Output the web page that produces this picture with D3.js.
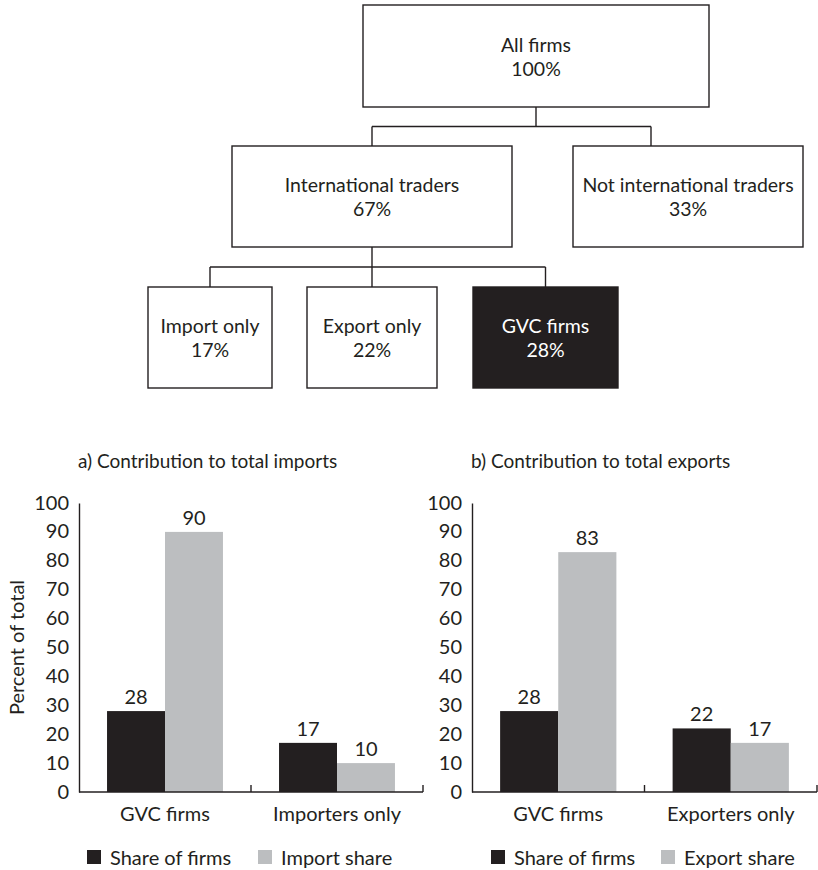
<!DOCTYPE html>
<html>
<head>
<meta charset="utf-8">
<script src="https://cdn.jsdelivr.net/npm/d3@7"></script>
<style>
  html, body { margin: 0; padding: 0; background: #fff; }
  svg { display: block; }
  text { font-family: Lato, "Noto Sans", sans-serif; fill: #231f20; }
</style>
</head>
<body>
<svg id="chart" width="818" height="870"></svg>
<script>
// ---- Firm classification tree ----
const treeIds     = ["all", "intl", "nonintl", "imp", "exp", "gvc"];
const treeParents = ["",    "all",  "all",     "intl", "intl", "intl"];
const treeLabels  = ["All firms", "International traders", "Not international traders",
                     "Import only", "Export only", "GVC firms"];
const treeShares  = [100, 67, 33, 17, 22, 28];

// ---- Panel a: contribution to total imports ----
const importCategories = ["GVC firms", "Importers only"];
const importFirmShare  = [28, 17];
const importValueShare = [90, 10];

// ---- Panel b: contribution to total exports ----
const exportCategories = ["GVC firms", "Exporters only"];
const exportFirmShare  = [28, 22];
const exportValueShare = [83, 17];

const yTicks = [0, 10, 20, 30, 40, 50, 60, 70, 80, 90, 100];

const INK = "#231f20";
const GREY = "#bcbec0";
const FS = 20;

const svg = d3.select("#chart");

// ---------------- Tree diagram ----------------
// box geometry per node (layout only)
const boxLayout = {
  all:     { x0: 363, x1: 709, y0: 5,   y1: 107 },
  intl:    { x0: 232, x1: 512, y0: 146, y1: 247 },
  nonintl: { x0: 573, x1: 803, y0: 146, y1: 247, drop: 651 },
  imp:     { x0: 148, x1: 272, y0: 287, y1: 388 },
  exp:     { x0: 307, x1: 437, y0: 287, y1: 388 },
  gvc:     { x0: 473, x1: 618, y0: 287, y1: 388 }
};

const root = d3.stratify()
  .id((d, i) => treeIds[i])
  .parentId((d, i) => treeParents[i] || null)(treeIds.map((id, i) => ({ i })));

root.each(n => {
  const b = boxLayout[n.id];
  n.box = b;
  n.cx = (b.x0 + b.x1) / 2;
  n.dropX = b.drop !== undefined ? b.drop : n.cx;
  n.label = treeLabels[n.data.i];
  n.share = treeShares[n.data.i];
  n.dark = n.id === "gvc";
});

const treeG = svg.append("g");

// elbow connectors: parent bottom -> bus line -> child top
root.descendants().filter(n => n.children).forEach(p => {
  const busY = (p.box.y1 + p.children[0].box.y0) / 2;
  const xs = p.children.map(c => c.dropX).concat([p.cx]);
  const lines = [
    [[p.cx, p.box.y1], [p.cx, busY]],
    [[d3.min(xs), busY], [d3.max(xs), busY]]
  ];
  p.children.forEach(c => lines.push([[c.dropX, busY], [c.dropX, c.box.y0]]));
  treeG.selectAll(null).data(lines).join("path")
    .attr("d", d3.line())
    .attr("fill", "none")
    .attr("stroke", INK)
    .attr("stroke-width", 1.4);
});

const nodes = treeG.selectAll("g.node").data(root.descendants()).join("g").attr("class", "node");
nodes.append("rect")
  .attr("x", d => d.box.x0).attr("y", d => d.box.y0)
  .attr("width", d => d.box.x1 - d.box.x0).attr("height", d => d.box.y1 - d.box.y0)
  .attr("fill", d => d.dark ? INK : "#fff")
  .attr("stroke", INK).attr("stroke-width", 1.4);
nodes.append("text")
  .attr("x", d => d.cx)
  .attr("y", d => (d.box.y0 + d.box.y1) / 2 - 12)
  .attr("text-anchor", "middle").attr("dominant-baseline", "central")
  .attr("font-size", 19.5)
  .style("fill", d => d.dark ? "#fff" : INK)
  .text(d => d.label);
nodes.append("text")
  .attr("x", d => d.cx)
  .attr("y", d => (d.box.y0 + d.box.y1) / 2 + 12)
  .attr("text-anchor", "middle").attr("dominant-baseline", "central")
  .attr("font-size", 19.5)
  .style("fill", d => d.dark ? "#fff" : INK)
  .text(d => d.share + "%");

// ---------------- Bar panels ----------------
const y = d3.scaleLinear().domain([0, 100]).range([792, 503]);

function panel(opts) {
  const g = svg.append("g");
  const { cats, firm, value, x0, x1, title, legendValue, legendX } = opts;
  const x = d3.scaleBand().domain(cats).range([x0, x1]).paddingInner(0.326).paddingOuter(0.163);
  const series = ["firm", "value"];
  const xs = d3.scaleBand().domain(series).range([0, x.bandwidth()]);
  const color = d3.scaleOrdinal().domain(series).range([INK, GREY]);
  const rows = cats.map((c, i) => ({ cat: c, firm: firm[i], value: value[i] }));

  // title
  g.append("text").attr("x", x0 - 1).attr("y", 460)
    .attr("dominant-baseline", "central").attr("font-size", 19).text(title);

  // y axis
  const yAxis = d3.axisLeft(y).tickValues(yTicks).tickSize(0).tickPadding(10).tickFormat(d3.format("d"));
  const ya = g.append("g").attr("transform", `translate(${x0},0)`).call(yAxis);
  ya.select(".domain").attr("stroke", INK).attr("stroke-width", 1.4);
  ya.selectAll(".tick text").attr("font-size", FS).attr("font-family", null).style("fill", INK).attr("dy", "0.3em");

  // bars
  const grp = g.selectAll("g.grp").data(rows).join("g").attr("class", "grp")
    .attr("transform", d => `translate(${x(d.cat)},0)`);
  grp.selectAll("rect").data(d => series.map(s => ({ s, v: d[s] }))).join("rect")
    .attr("x", d => xs(d.s)).attr("width", xs.bandwidth())
    .attr("y", d => y(d.v)).attr("height", d => y(0) - y(d.v))
    .attr("fill", d => color(d.s));
  grp.selectAll("text").data(d => series.map(s => ({ s, v: d[s] }))).join("text")
    .attr("x", d => xs(d.s) + xs.bandwidth() / 2)
    .attr("y", d => y(d.v) - 7)
    .attr("text-anchor", "middle").attr("font-size", FS)
    .text(d => d.v);

  // x axis: baseline with upward ticks at band boundaries
  const step = x.step();
  g.append("line").attr("x1", x0).attr("x2", x1).attr("y1", y(0)).attr("y2", y(0))
    .attr("stroke", INK).attr("stroke-width", 1.4);
  g.selectAll("line.xt").data(cats.map((c, i) => x0 + step * (i + 1))).join("line")
    .attr("class", "xt")
    .attr("x1", d => d).attr("x2", d => d).attr("y1", y(0)).attr("y2", y(0) - 7)
    .attr("stroke", INK).attr("stroke-width", 1.4);
  g.selectAll("text.cat").data(cats).join("text").attr("class", "cat")
    .attr("x", d => x(d) + x.bandwidth() / 2).attr("y", 813)
    .attr("text-anchor", "middle").attr("dominant-baseline", "central").attr("font-size", FS)
    .text(d => d);

  // legend
  const legendItems = [{ s: "firm", label: "Share of firms", lx: legendX[0] },
                       { s: "value", label: legendValue, lx: legendX[1] }];
  const lg = g.selectAll("g.lg").data(legendItems).join("g").attr("class", "lg")
    .attr("transform", d => `translate(${d.lx},850)`);
  lg.append("rect").attr("width", 14).attr("height", 14).attr("fill", d => color(d.s));
  lg.append("text").attr("x", 23).attr("y", 7).attr("dominant-baseline", "central")
    .attr("font-size", FS).text(d => d.label);
  return g;
}

panel({ cats: importCategories, firm: importFirmShare, value: importValueShare,
        x0: 79, x1: 423, title: "a) Contribution to total imports",
        legendValue: "Import share", legendX: [87, 258] });
panel({ cats: exportCategories, firm: exportFirmShare, value: exportValueShare,
        x0: 472, x1: 817, title: "b) Contribution to total exports",
        legendValue: "Export share", legendX: [491, 661] });

// shared y-axis title
svg.append("text")
  .attr("transform", `translate(16,${(y(0) + y(100)) / 2}) rotate(-90)`)
  .attr("text-anchor", "middle").attr("dominant-baseline", "central")
  .attr("font-size", FS).text("Percent of total");
</script>
</body>
</html>
